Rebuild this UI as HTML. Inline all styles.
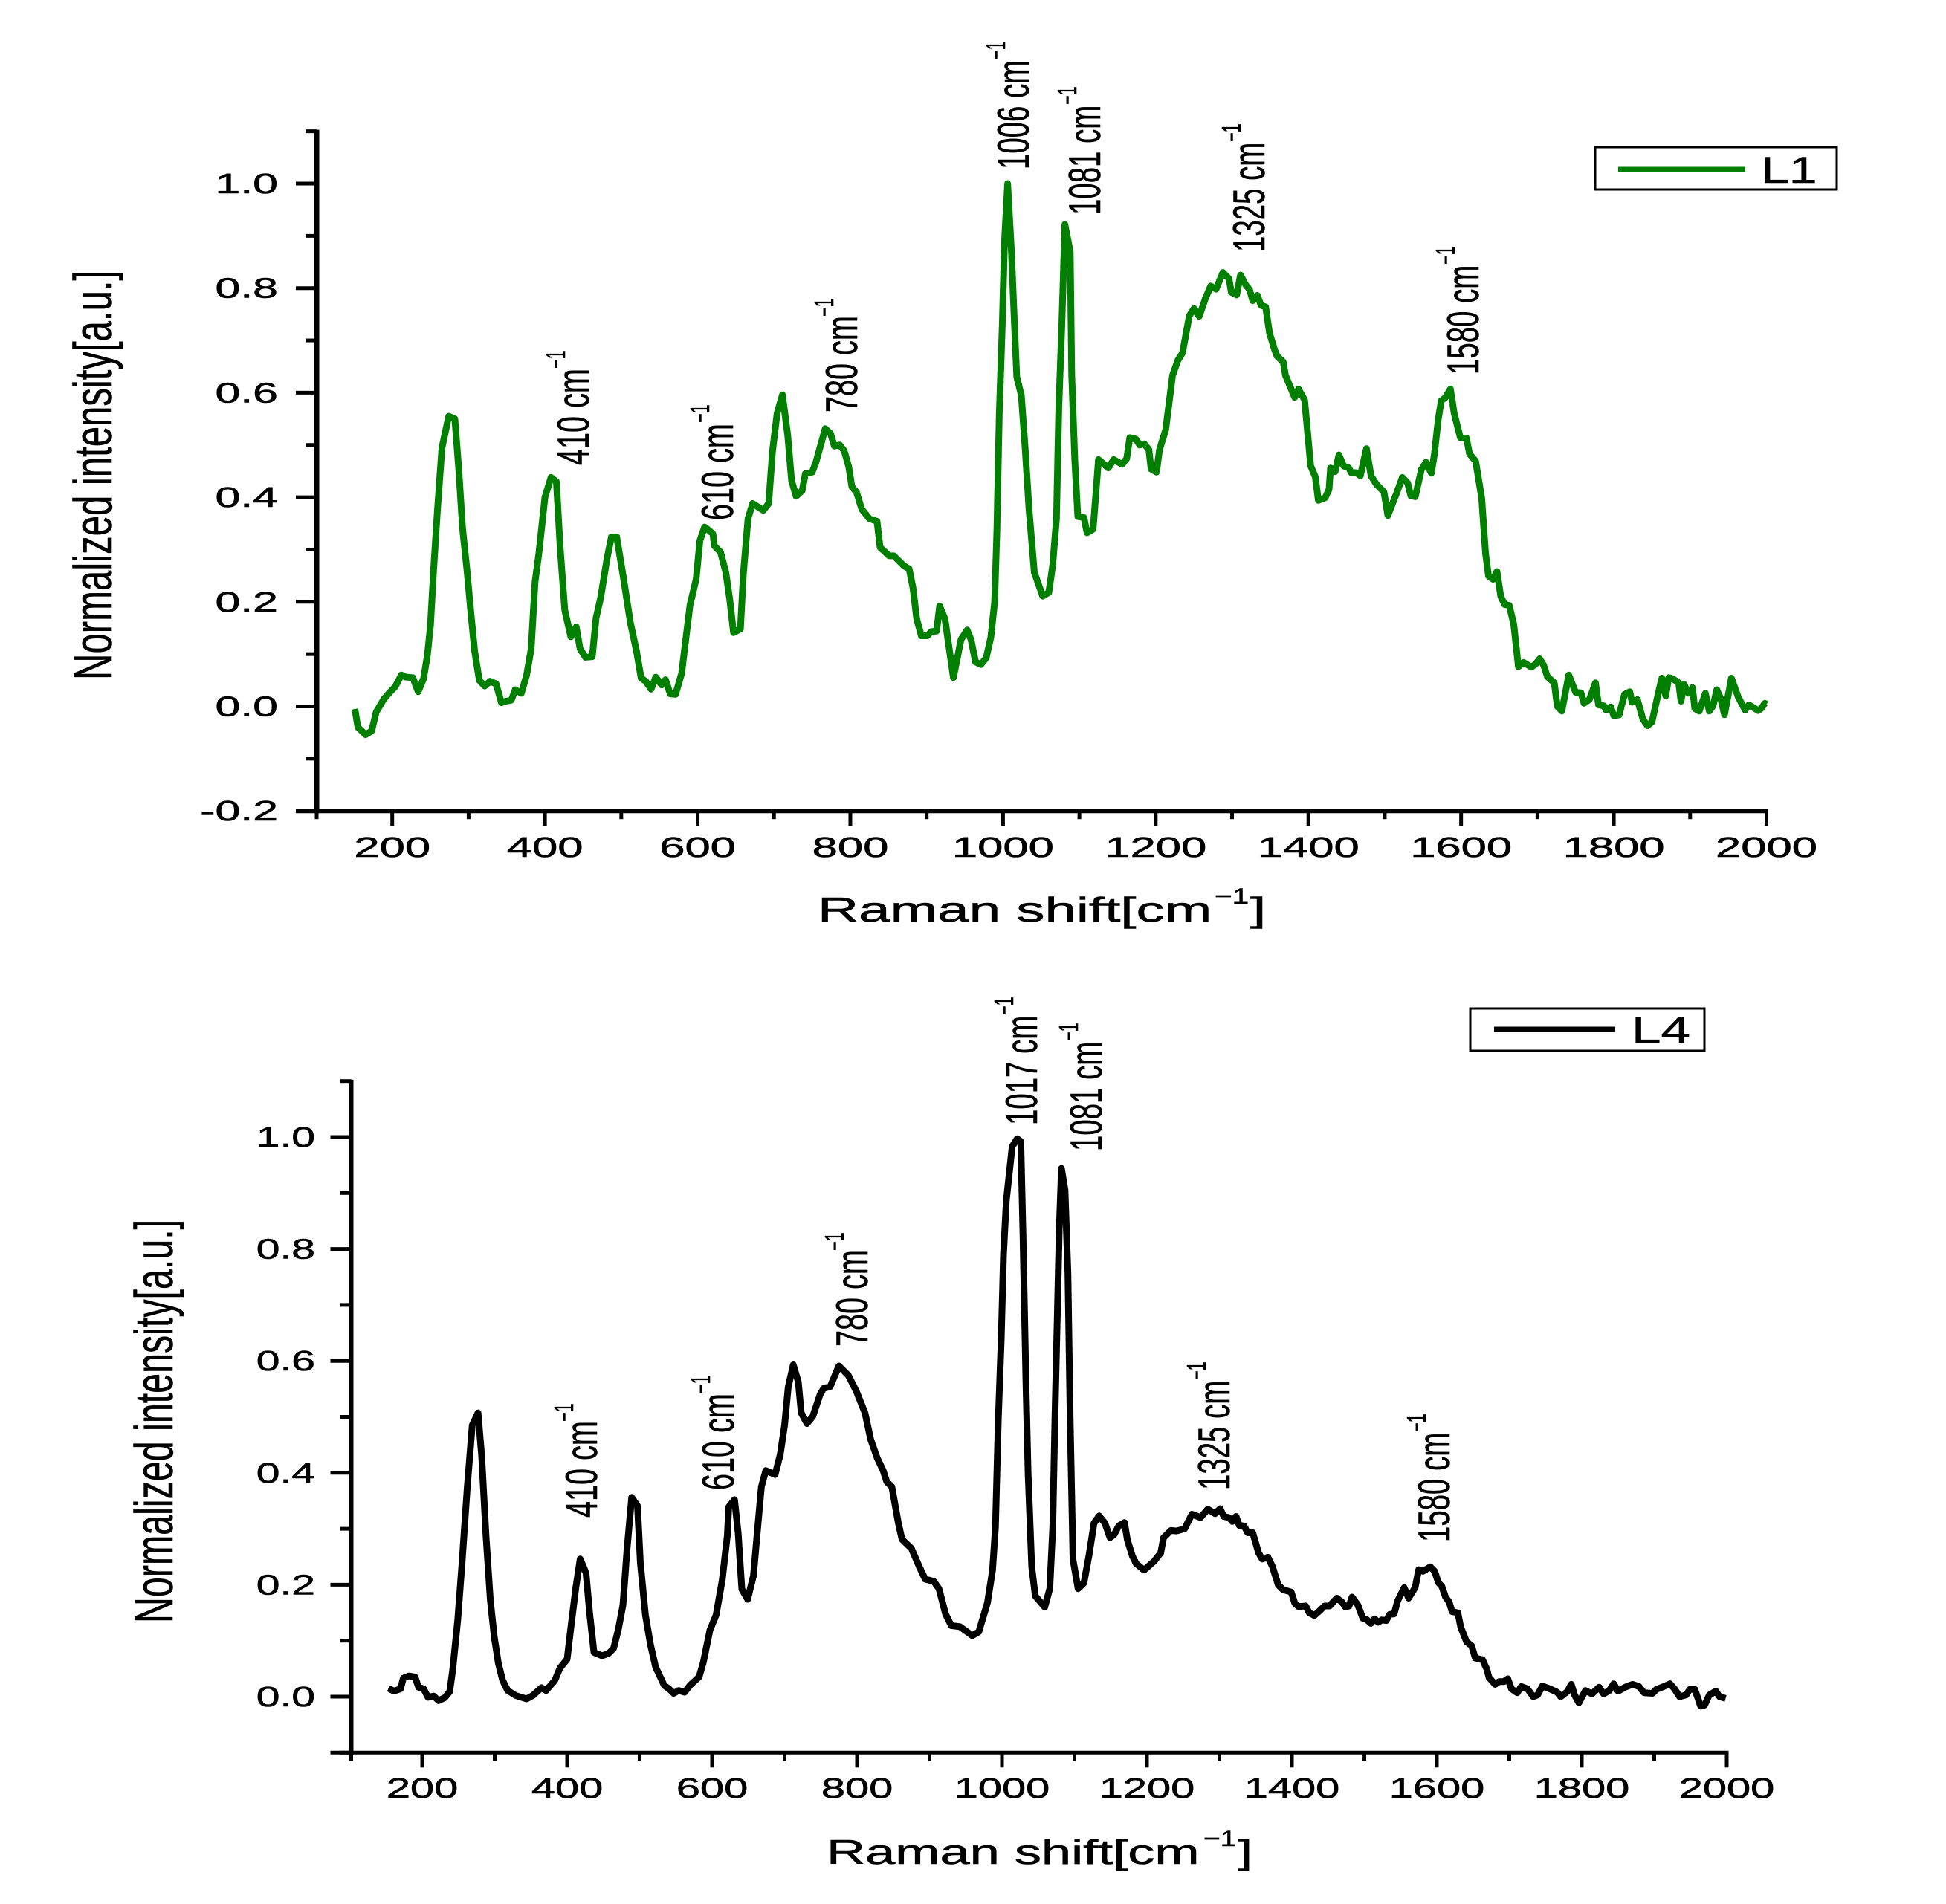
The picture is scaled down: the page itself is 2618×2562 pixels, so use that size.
<!DOCTYPE html>
<html>
<head>
<meta charset="utf-8">
<title>Raman spectra L1 and L4</title>
<style>
html,body{margin:0;padding:0;background:#fff;}
svg{display:block;}
text{font-family:"Liberation Sans",Arial,sans-serif;fill:#000;stroke:#000;stroke-width:.6px;}
</style>
</head>
<body>
<svg id="figure" width="2618" height="2562" viewBox="0 0 2618 2562" xmlns="http://www.w3.org/2000/svg">
<rect width="2618" height="2562" fill="#fff"/>

<g>
<text font-size="72" transform="translate(150,915) rotate(-90) scale(.682,1)">Normalized intensity[a.u.]</text>
<text font-size="46" transform="translate(1100,1240) scale(1.66,1)">Raman shift[cm</text>
<text font-size="30" transform="translate(1634,1216) scale(1.35,1)">−1</text>
<text font-size="46" transform="translate(1682,1240) scale(1.66,1)">]</text>
<g><text font-size="60" transform="translate(792,626) rotate(-90) scale(.66,1)">410 cm</text><text font-size="36" transform="translate(760,496) rotate(-90) scale(.6,1)">−1</text></g>
<g><text font-size="60" transform="translate(986,700) rotate(-90) scale(.66,1)">610 cm</text><text font-size="36" transform="translate(954,569) rotate(-90) scale(.6,1)">−1</text></g>
<g><text font-size="60" transform="translate(1153,555) rotate(-90) scale(.66,1)">780 cm</text><text font-size="36" transform="translate(1121,426) rotate(-90) scale(.6,1)">−1</text></g>
<g><text font-size="60" transform="translate(1384,228) rotate(-90) scale(.64,1)">1006 cm</text><text font-size="36" transform="translate(1352,80) rotate(-90) scale(.6,1)">−1</text></g>
<g><text font-size="60" transform="translate(1480,289) rotate(-90) scale(.64,1)">1081 cm</text><text font-size="36" transform="translate(1448,141) rotate(-90) scale(.6,1)">−1</text></g>
<g><text font-size="60" transform="translate(1701,339) rotate(-90) scale(.64,1)">1325 cm</text><text font-size="36" transform="translate(1669,191) rotate(-90) scale(.6,1)">−1</text></g>
<g><text font-size="60" transform="translate(1989,504) rotate(-90) scale(.64,1)">1580 cm</text><text font-size="36" transform="translate(1957,356) rotate(-90) scale(.6,1)">−1</text></g>
<g>
<rect x="2146" y="198" width="325" height="57" fill="#fff" stroke="#000" stroke-width="3"/>
<line x1="2177" y1="228" x2="2348" y2="228" stroke="#007f00" stroke-width="7"/>
<text font-size="50" transform="translate(2369,246) scale(1.36,1)">L1</text>
</g>
</g>

<g>
<text font-size="72" transform="translate(232,2184) rotate(-90) scale(.672,1)">Normalized intensity[a.u.]</text>
<text font-size="46" transform="translate(1112,2508) scale(1.57,1)">Raman shift[cm</text>
<text font-size="30" transform="translate(1619,2484) scale(1.3,1)">−1</text>
<text font-size="46" transform="translate(1665,2508) scale(1.57,1)">]</text>
<g><text font-size="60" transform="translate(803,2042) rotate(-90) scale(.66,1)">410 cm</text><text font-size="36" transform="translate(771,1913) rotate(-90) scale(.6,1)">−1</text></g>
<g><text font-size="60" transform="translate(987,2005) rotate(-90) scale(.66,1)">610 cm</text><text font-size="36" transform="translate(955,1875) rotate(-90) scale(.6,1)">−1</text></g>
<g><text font-size="60" transform="translate(1167,1812) rotate(-90) scale(.66,1)">780 cm</text><text font-size="36" transform="translate(1135,1683) rotate(-90) scale(.6,1)">−1</text></g>
<g><text font-size="60" transform="translate(1395,1514) rotate(-90) scale(.64,1)">1017 cm</text><text font-size="36" transform="translate(1363,1366) rotate(-90) scale(.6,1)">−1</text></g>
<g><text font-size="60" transform="translate(1482,1549) rotate(-90) scale(.64,1)">1081 cm</text><text font-size="36" transform="translate(1450,1401) rotate(-90) scale(.6,1)">−1</text></g>
<g><text font-size="60" transform="translate(1654,2005) rotate(-90) scale(.64,1)">1325 cm</text><text font-size="36" transform="translate(1622,1857) rotate(-90) scale(.6,1)">−1</text></g>
<g><text font-size="60" transform="translate(1950,2075) rotate(-90) scale(.64,1)">1580 cm</text><text font-size="36" transform="translate(1918,1927) rotate(-90) scale(.6,1)">−1</text></g>
<g>
<rect x="1978" y="1357" width="315" height="57" fill="#fff" stroke="#000" stroke-width="3"/>
<line x1="2010" y1="1385" x2="2173" y2="1385" stroke="#000" stroke-width="7"/>
<text font-size="50" transform="translate(2195,1403) scale(1.42,1)">L4</text>
</g>
</g>
</svg>

<script>
const xTickValues = [200,400,600,800,1000,1200,1400,1600,1800,2000];
const xMinorValues = [100,300,500,700,900,1100,1300,1500,1700,1900];
const yTickValuesL1 = [1.0,0.8,0.6,0.4,0.2,0.0,-0.2];
const yTickLabelsL1 = ["1.0","0.8","0.6","0.4","0.2","0.0","-0.2"];
const yMinorValuesL1 = [1.1,0.9,0.7,0.5,0.3,0.1,-0.1];
const yTickValuesL4 = [1.0,0.8,0.6,0.4,0.2,0.0];
const yTickLabelsL4 = ["1.0","0.8","0.6","0.4","0.2","0.0"];
const yMinorValuesL4 = [1.1,0.9,0.7,0.5,0.3,0.1,-0.1];

const shiftL1 = [
151,155,165,173,179,189,195.5,204,212,218,
227,234,241,246,250,254,259,265,274,282,
287,292,298,303,308,314,321,328,336,343,
349,356,361,369,376,382,387,392,400,408,
415,420,426,434,441,446,453,462,467,473,
481,487,494,502,512,520,526,532,539,545,
553,558,564,571,579,585,590,598,603,609,
612,620,622,630,637,642,647,656,660,666,
672,686,693,698,704,711,718,723,729,737,
741,750,755,767,774,779,786,792,798,802,
808,815,825,835,839,851,857,870,877,882,
887,893,901,906,913,917,924,935,945,953,
958,964,971,978,984,989,992,995,999,1002,
1006,1011,1015,1018,1024,1029,1034,1041,1052,1060,
1065,1070,1073,1077,1081,1088,1090,1094,1098,1106,
1110,1118,1125,1138,1145,1156,1162,1166,1174,1179,
1185,1191,1194,1201,1205,1213,1218,1222,1229,1235,
1244,1250,1257,1265,1272,1279,1288,1296,1299,1306,
1311,1318,1323,1327,1333,1338,1344,1349,1356,1359,
1367,1370,1382,1387,1395,1403,1409,1413,1422,1427,
1429,1435,1440,1446,1453,1456,1463,1468,1476,1482,
1489,1499,1504,1516,1523,1530,1534,1540,1548,1554,
1561,1565,1570,1574,1579,1586,1591,1599,1607,1611,
1619,1627,1632,1636,1642,1647,1652,1657,1663,1669,
1675,1682,1692,1697,1703,1708,1713,1722,1726,1732,
1741,1750,1757,1761,1768,1776,1780,1787,1790,1796,
1800,1807,1814,1821,1824,1831,1838,1844,1850,1859,
1863,1868,1872,1877,1885,1888,1892,1898,1903,1906,
1912,1920,1925,1930,1935,1940,1945,1954,1963,1972,
1977,1989,1993,1998,2000];
const intensityL1 = [
-.005,-.04,-.054,-.047,-.011,.014,.025,.038,.06,.056,
.055,.028,.053,.097,.154,.258,.371,.494,.555,.55,
.455,.342,.258,.179,.105,.05,.039,.048,.043,.007,
.01,.012,.032,.025,.06,.11,.238,.292,.4,.438,
.43,.302,.184,.133,.152,.11,.094,.095,.169,.208,
.28,.324,.324,.253,.159,.105,.054,.048,.033,.056,
.041,.051,.024,.023,.063,.134,.194,.243,.317,.343,
.34,.33,.307,.295,.256,.205,.141,.148,.256,.359,
.388,.375,.388,.487,.56,.596,.519,.432,.402,.413,
.445,.448,.467,.531,.522,.498,.5,.489,.458,.42,
.41,.377,.359,.354,.304,.288,.288,.269,.263,.227,
.167,.135,.135,.143,.144,.192,.167,.055,.128,.146,
.128,.085,.08,.093,.132,.2,.34,.557,.73,.89,
1,.87,.73,.63,.595,.493,.378,.256,.211,.218,
.27,.359,.57,.73,.922,.87,.634,.472,.363,.361,
.332,.339,.472,.456,.472,.463,.474,.514,.511,.5,
.502,.491,.454,.448,.491,.529,.586,.633,.662,.676,
.747,.761,.746,.78,.804,.798,.83,.818,.792,.787,
.825,.806,.797,.776,.786,.767,.764,.714,.681,.67,
.659,.633,.591,.607,.586,.46,.439,.394,.399,.415,
.456,.449,.481,.46,.456,.447,.447,.441,.493,.441,
.425,.41,.365,.41,.438,.427,.403,.401,.453,.467,
.446,.482,.548,.585,.59,.607,.56,.514,.513,.483,
.469,.398,.293,.249,.243,.258,.21,.195,.193,.157,
.076,.084,.075,.08,.091,.079,.057,.045,0,-.009,
.06,.027,.026,.006,.013,.045,.003,.001,-.007,-.001,
-.018,-.016,.023,.028,.008,.013,-.024,-.037,-.03,.03,
.054,.02,.055,.053,.045,.01,.042,.025,.036,-.004,
-.009,.025,-.009,.001,.032,.015,-.016,.054,.018,-.007,
.003,-.008,-.004,.006,.004];

const shiftL4 = [
153.5,161,170,174,181.5,190,195,202,208,216,
222.5,231,238,242,249,255,262,269,277,282,
288,294,299.5,305,311,318,329,344,352.5,364.5,
371,383,390,400,405.5,412,418,426,431,437,
448,457,464,470.5,477,482.5,489,497,501,508,
515,522,534,540.5,547,554,562,570,582,588,
597,605.5,614,621,623,631,636,641,649,657,
663,668,674,687,694,700,705,712,719,723,
731,739,749,754,763,775,788,799,811,819,
828,836,841,848,857,862,875,886,894,906,
913,922,930,942,959,968,980,987,991,995,
999,1002,1006,1014,1021,1026,1029,1033,1036,1041,
1046,1059,1066,1070,1073,1076.5,1079,1082,1087,1091,
1094,1098,1105,1113,1120,1127,1134,1142,1149,1155,
1161,1169,1173,1180,1185,1196,1210,1219,1223,1233,
1241,1252,1262,1274,1284,1294,1301,1306,1313,1318,
1323,1327.5,1334,1339,1346,1354,1359,1367,1373,1381,
1388,1399,1404,1409,1419,1424,1431,1438,1445,1452,
1462,1469,1474,1479,1483,1491,1498,1503,1509,1514,
1519,1524,1530,1535,1541,1546,1555,1561,1570,1575,
1581,1591,1597,1602,1607,1612,1617,1621,1629,1633,
1641,1648,1653,1663,1669,1672,1680.5,1686,1692.5,1698,
1703,1711,1716.5,1725,1733,1739,1745.5,1756,1766,1771,
1780,1785.5,1790,1796,1805,1814,1824,1830,1838,1844,
1850,1860,1870,1879,1886,1897.6,1903,1911,1921.6,1928,
1935,1944,1949,1956,1964,1969.5,1976,1985,1990,1998.5];
const intensityL4 = [
.015,.01,.014,.033,.037,.035,.017,.014,-.001,.001,
-.007,-.002,.009,.048,.137,.239,.372,.485,.507,.43,
.288,.173,.106,.06,.029,.011,.002,-.004,.002,.016,
.011,.029,.051,.067,.128,.195,.246,.221,.15,.079,
.073,.077,.086,.119,.164,.261,.356,.341,.239,.146,
.093,.053,.02,.014,.006,.011,.008,.021,.035,.062,
.119,.146,.208,.288,.339,.352,.292,.192,.174,.216,
.303,.375,.404,.397,.433,.485,.553,.593,.562,.507,
.488,.501,.54,.551,.554,.591,.574,.546,.507,.459,
.426,.404,.384,.375,.31,.281,.265,.232,.21,.206,
.193,.148,.127,.125,.109,.116,.168,.226,.303,.497,
.64,.789,.886,.983,.997,.992,.821,.562,.4,.232,
.18,.16,.193,.303,.497,.692,.834,.944,.905,.756,
.497,.245,.193,.203,.252,.31,.323,.31,.284,.29,
.305,.311,.28,.251,.238,.226,.242,.257,.284,.297,
.296,.3,.326,.32,.335,.327,.336,.322,.32,.313,
.322,.306,.305,.293,.293,.257,.246,.249,.233,.2,
.191,.187,.167,.161,.162,.15,.145,.153,.162,.162,
.176,.169,.16,.162,.178,.164,.14,.138,.131,.139,
.133,.137,.136,.147,.148,.171,.195,.176,.195,.227,
.224,.232,.224,.204,.197,.178,.169,.152,.15,.124,
.098,.091,.069,.066,.049,.034,.022,.027,.027,.032,
.014,.007,.018,.014,0,.003,.019,.014,.008,0,
.009,.022,.003,-.011,.011,.005,.017,.005,.011,.023,
.01,.017,.022,.018,.007,.006,.013,.017,.023,.014,
0,.003,.013,.013,-.017,-.015,.003,.01,0,-.003];

const NS = 'http://www.w3.org/2000/svg';
const fig = document.getElementById('figure');

function node(tag, attrs, parent) {
  const el = document.createElementNS(NS, tag);
  for (const k in attrs) el.setAttribute(k, attrs[k]);
  parent.appendChild(el);
  return el;
}

function drawChart(opts) {
  const xScale = v => opts.x200 + (v - 200) * (opts.x2000 - opts.x200) / 1800;
  const yScale = v => opts.y0 + (opts.y1 - opts.y0) * v;
  const g = node('g', {}, fig);
  
  

  const series = node('polyline', {
    points: opts.shift.map((s, i) => xScale(s).toFixed(1) + ',' + yScale(opts.intensity[i]).toFixed(1)).join(' '),
    fill: 'none', stroke: opts.color, 'stroke-width': opts.lineWidth, 'stroke-linejoin': 'round'
  }, g);
  
  

  const axisLeft = xScale(100) + opts.axisNudge;
  const yAxisLine = node('line', {
    x1: axisLeft, x2: axisLeft, y1: yScale(1.1) - 2, y2: yScale(opts.yMin) + 3,
    stroke: '#000', 'stroke-width': opts.axisWidth
  }, g);
  
  

  const xAxisLine = node('line', {
    x1: axisLeft - 28, x2: xScale(2000) + 2.5, y1: yScale(opts.yMin), y2: yScale(opts.yMin),
    stroke: '#000', 'stroke-width': opts.axisWidth - 1
  }, g);
  
  

  xTickValues.forEach(v => {
    const tick = node('line', {
      x1: xScale(v), x2: xScale(v), y1: yScale(opts.yMin), y2: yScale(opts.yMin) + 20,
      stroke: '#000', 'stroke-width': 5
    }, g);
    
    
    const label = node('text', {
      'font-size': 38, 'text-anchor': 'middle',
      transform: 'translate(' + xScale(v) + ',' + opts.xLabelY + ') scale(' + opts.xLabelStretch + ',1)'
    }, g);
    label.textContent = String(v);
    
    
  });

  xMinorValues.forEach(v => {
    const tick = node('line', {
      x1: xScale(v) + (v === 100 ? opts.axisNudge : 0), x2: xScale(v) + (v === 100 ? opts.axisNudge : 0),
      y1: yScale(opts.yMin), y2: yScale(opts.yMin) + 11,
      stroke: '#000', 'stroke-width': 5
    }, g);
    
    
  });

  opts.yTicks.forEach((v, i) => {
    const tick = node('line', {
      x1: axisLeft - 28, x2: axisLeft, y1: yScale(v), y2: yScale(v),
      stroke: '#000', 'stroke-width': 5
    }, g);
    
    
    const label = node('text', {
      'font-size': 38, 'text-anchor': 'end',
      transform: 'translate(' + opts.yLabelX + ',' + (yScale(v) + 13) + ') scale(' + opts.yLabelStretch + ',1)'
    }, g);
    label.textContent = opts.yLabels[i];
    
    
  });

  opts.yMinor.forEach(v => {
    const tick = node('line', {
      x1: axisLeft - 15, x2: axisLeft, y1: yScale(v), y2: yScale(v),
      stroke: '#000', 'stroke-width': 5
    }, g);
    
    
  });
}

drawChart({
  id: 'l1', shift: shiftL1, intensity: intensityL1, color: '#007f00', lineWidth: 9,
  x200: 527.7, x2000: 2376.5, y0: 950.5, y1: 247, yMin: -0.2, axisNudge: 1, axisWidth: 7,
  yTicks: yTickValuesL1, yLabels: yTickLabelsL1, yMinor: yMinorValuesL1,
  xLabelY: 1153, xLabelStretch: 1.62, yLabelX: 374, yLabelStretch: 1.6
});
drawChart({
  id: 'l4', shift: shiftL4, intensity: intensityL4, color: '#000', lineWidth: 9,
  x200: 568, x2000: 2323, y0: 2283, y1: 1530, yMin: -0.1, axisNudge: 2, axisWidth: 6,
  yTicks: yTickValuesL4, yLabels: yTickLabelsL4, yMinor: yMinorValuesL4,
  xLabelY: 2419, xLabelStretch: 1.52, yLabelX: 424, yLabelStretch: 1.5
});
</script>
</body>
</html>
